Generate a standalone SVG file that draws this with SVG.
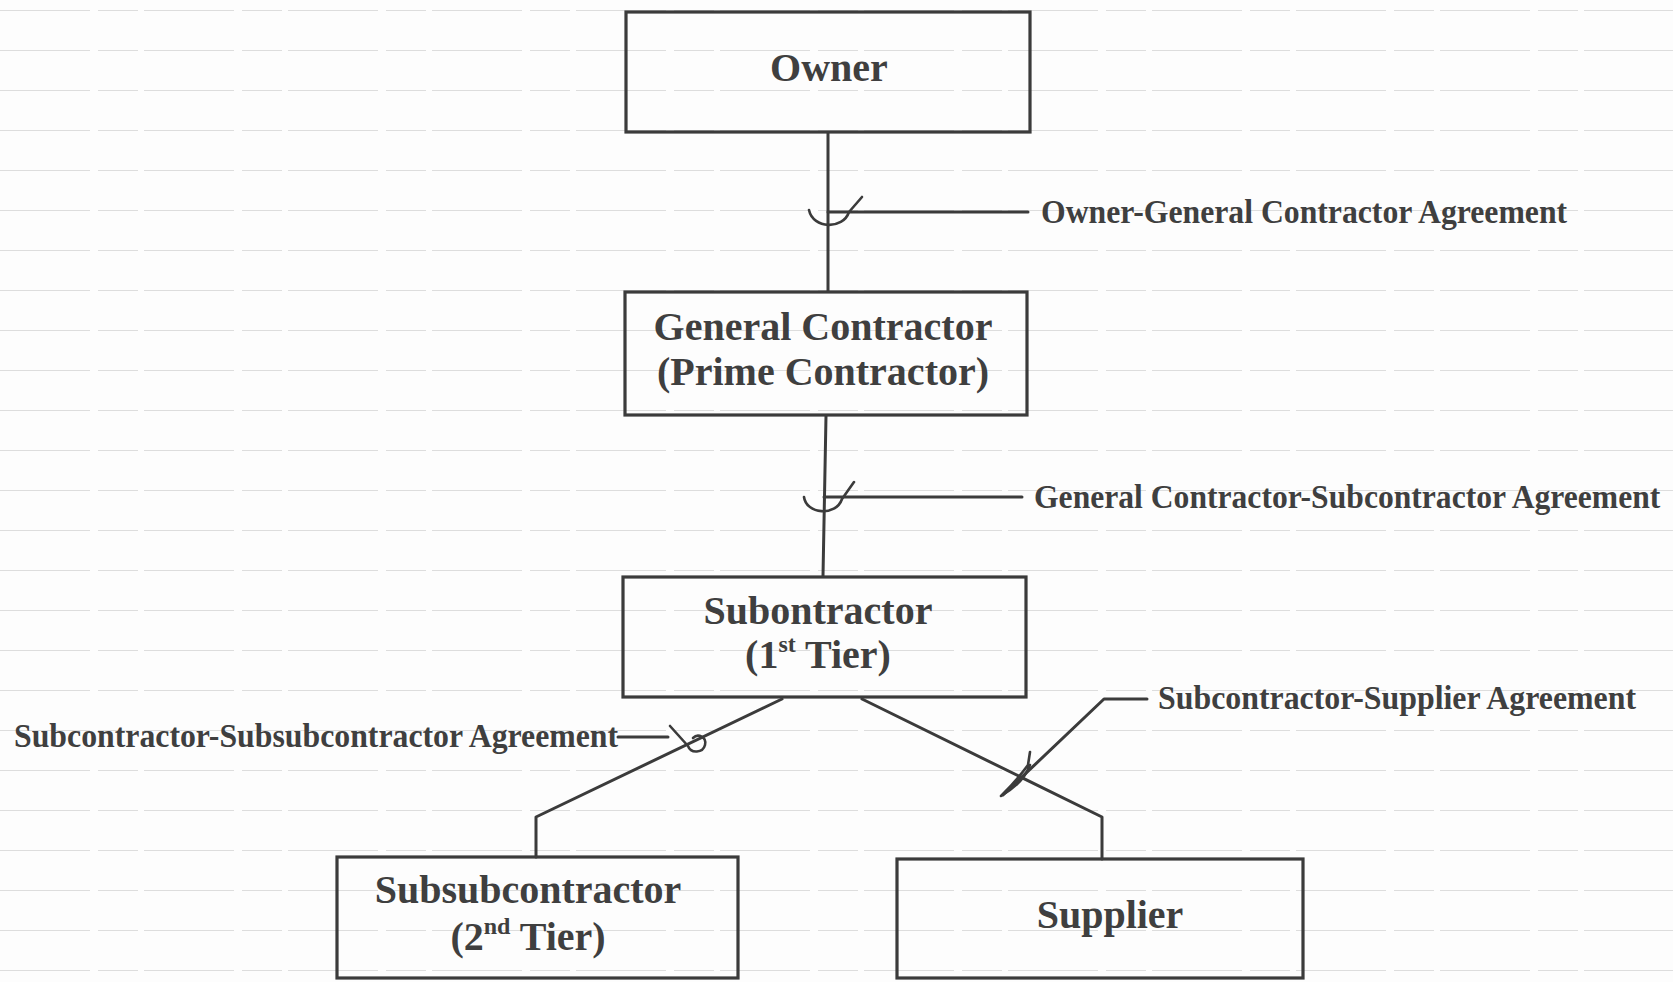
<svg xmlns="http://www.w3.org/2000/svg" width="1673" height="982" viewBox="0 0 1673 982">
<style>
.box{fill:none;stroke:#3b3b3b;stroke-width:3.2}
.ln{fill:none;stroke:#3b3b3b;stroke-width:3;stroke-linecap:round;stroke-linejoin:round}
.mk{fill:none;stroke:#3b3b3b;stroke-width:2.6;stroke-linecap:round;stroke-linejoin:round}
.t{font-family:"Liberation Serif","Times New Roman",serif;font-weight:bold;fill:#3f3f3f;font-size:40px;text-anchor:middle}
.lab{font-family:"Liberation Serif","Times New Roman",serif;font-weight:bold;fill:#3f3f3f;font-size:34px}
.sup{font-size:24px}
</style>
<defs>
<pattern id="ruled" x="0" y="10" width="1673" height="40" patternUnits="userSpaceOnUse">
<line x1="0" y1="0.5" x2="1673" y2="0.5" stroke="#dddddd" stroke-width="1.1" stroke-dasharray="90 8 40 6"/>
</pattern>
</defs>
<rect width="1673" height="982" fill="#fdfdfd"/>
<rect width="1673" height="982" fill="url(#ruled)"/>

<g id="connectors">
<line class="ln" x1="828" y1="133" x2="828" y2="291"/>
<line class="ln" x1="826" y1="416" x2="823" y2="576"/>
<polyline class="ln" points="782,699 536,817 536,857"/>
<polyline class="ln" points="862,699 1102,817 1102,859"/>
<line class="ln" x1="828" y1="212" x2="1028" y2="212"/>
<path class="mk" d="M809 210 C813 229 843 230 849 212 L862 197"/>
<line class="ln" x1="824" y1="497" x2="1022" y2="497"/>
<path class="mk" d="M804 497 C806 514 836 517 842 499 L854 482"/>
<line class="ln" x1="618" y1="737" x2="668" y2="737"/>
<path class="mk" d="M670 726 L688 746 C691 754 703 753 705 745 C707 737 698 733 693 738"/>
<polyline class="ln" points="1147,699 1104,699 1003,795"/>
<path class="mk" d="M1030 752 L1028 765 C1020 776 1009 788 1001 796 C1013 789 1025 779 1030 765"/>
<text class="lab" transform="translate(1041 223) scale(0.933 1)">Owner-General Contractor Agreement</text>
<text class="lab" transform="translate(1034 508) scale(0.93 1)">General Contractor-Subcontractor Agreement</text>
<text class="lab" transform="translate(14 747) scale(0.935 1)">Subcontractor-Subsubcontractor Agreement</text>
<text class="lab" transform="translate(1158 709) scale(0.937 1)">Subcontractor-Supplier Agreement</text>
</g>

<g id="owner">
<rect class="box" x="626" y="12" width="404" height="120"/>
<text class="t" x="829" y="81">Owner</text>
</g>

<g id="general-contractor">
<rect class="box" x="625" y="292" width="402" height="123"/>
<text class="t" x="823" y="340">General Contractor</text>
<text class="t" x="823" y="385">(Prime Contractor)</text>
</g>

<g id="subcontractor">
<rect class="box" x="623" y="577" width="403" height="120"/>
<text class="t" x="818" y="624">Subontractor</text>
<text class="t" x="818" y="668">(1<tspan class="sup" dy="-16">st</tspan><tspan dy="16"> Tier)</tspan></text>
</g>

<g id="subsubcontractor">
<rect class="box" x="337" y="857" width="401" height="121"/>
<text class="t" x="528" y="903">Subsubcontractor</text>
<text class="t" x="528" y="950">(2<tspan class="sup" dy="-16">nd</tspan><tspan dy="16"> Tier)</tspan></text>
</g>

<g id="supplier">
<rect class="box" x="897" y="859" width="406" height="119"/>
<text class="t" x="1110" y="928">Supplier</text>
</g>
</svg>
